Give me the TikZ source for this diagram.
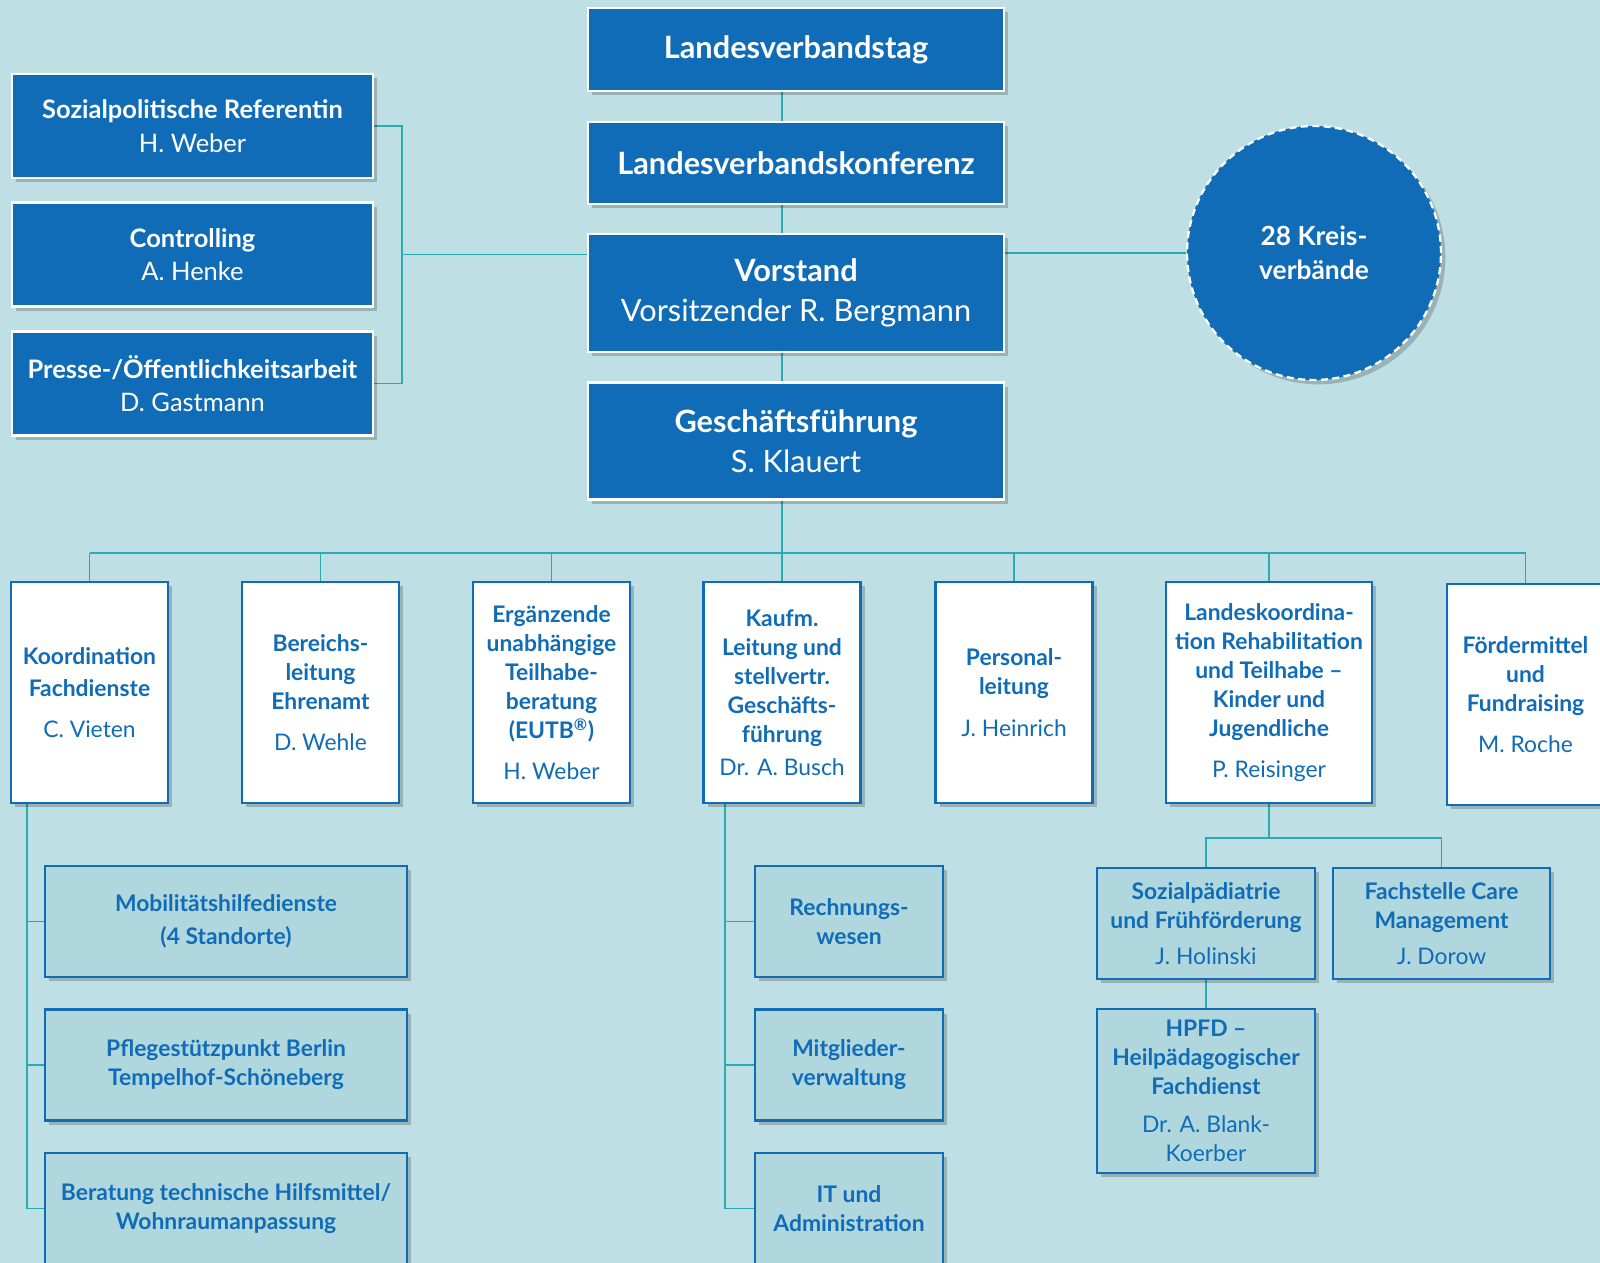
\documentclass[tikz,border=0pt]{standalone}
\usepackage{fontspec}
\setmainfont{Lato}
\usetikzlibrary{shadows,backgrounds}

\definecolor{bgblue}{RGB}{190,223,228}
\definecolor{orgblue}{RGB}{16,108,182}
\definecolor{linkteal}{RGB}{40,172,178}
\definecolor{subfill}{RGB}{176,215,222}

\newcommand\orgtop{\fontsize{17.5}{23}\selectfont}
\newcommand\orgside{\fontsize{14.5}{19}\selectfont}
\newcommand\orglow{\fontsize{13}{16.5}\selectfont}

\tikzset{
  boxshadow/.style={drop shadow={shadow xshift=2.5pt,shadow yshift=-2.5pt,opacity=.2,fill=black}},
  board/.style={boxshadow,fill=orgblue,draw=white,line width=1.6pt,text=white,align=center,
    inner sep=2pt,minimum width=8.32cm,font=\orgtop\bfseries},
  staff/.style={boxshadow,fill=orgblue,draw=white,line width=1.6pt,text=white,align=center,
    inner sep=2pt,minimum width=7.22cm,minimum height=2.08cm,font=\orgside\bfseries},
  unit/.style={boxshadow,fill=white,draw=orgblue,line width=1.6pt,text=orgblue,align=center,
    inner sep=2pt,minimum width=3.14cm,minimum height=4.42cm,font=\orglow\bfseries},
  subunit/.style={boxshadow,fill=subfill,draw=orgblue,line width=1.4pt,text=orgblue,align=center,
    inner sep=2pt,minimum height=2.22cm,font=\orglow\bfseries},
  link/.style={draw=linkteal,line width=1.1pt},
}

\begin{document}
\begin{tikzpicture}[x=0.02cm,y=-0.02cm]
\useasboundingbox (0,0) rectangle (1600,1263);

% Verbandsorgane
\node[board,minimum height=1.66cm] (lvtag) at (796,49.5) {Landesverbandstag};
\node[board,minimum height=1.64cm] (lvk) at (796,163) {Landesverbandskonferenz};
\node[board,minimum height=2.36cm] (vorstand) at (796,293) {Vorstand\\\mdseries Vorsitzender R. Bergmann};
\node[board,minimum height=2.34cm] (gf) at (796,441) {Geschäftsführung\\\mdseries S. Klauert};

% Stabsstellen
\node[staff] (sozref) at (192.5,126) {Sozialpolitische Referentin\\\mdseries H. Weber};
\node[staff] (controlling) at (192.5,254.5) {Controlling\\\mdseries A. Henke};
\node[staff] (presse) at (192.5,383.5) {Presse-/Öffentlichkeitsarbeit\\\mdseries D. Gastmann};

\node[boxshadow,circle,fill=orgblue,draw=white,dashed,line width=1.3pt,dash pattern=on 4pt off 2.5pt,
  minimum size=5.08cm,inner sep=0pt,text=white,align=center,font=\fontsize{15}{19.7}\selectfont\bfseries]
  (kreis) at (1314,253) {28 Kreis-\\verbände};

% Bereiche
\node[unit] (kf) at (89.5,692.5) {Koordination\\[1.5pt]Fachdienste\\[7pt]\mdseries C. Vieten};
\node[unit] (bl) at (320.5,692.5) {Bereichs-\\leitung\\Ehrenamt\\[7pt]\mdseries D. Wehle};
\node[unit] (eutb) at (551.5,692.5) {Ergänzende\\unabhängige\\Teilhabe-\\beratung\\(EUTB\textsuperscript{®})\\[7pt]\mdseries H. Weber};
\node[unit] (kaufm) at (782,692.5) {Kaufm.\\Leitung und\\stellvertr.\\Geschäfts-\\führung\\[2pt]\mdseries Dr. A. Busch};
\node[unit] (pl) at (1014,692.5) {Personal-\\leitung\\[7pt]\mdseries J. Heinrich};
\node[unit,minimum width=4.12cm] (lk) at (1269,692.5) {Landeskoordina-\\tion Rehabilitation\\und Teilhabe –\\Kinder und\\Jugendliche\\[7pt]\mdseries P. Reisinger};
\node[unit] (fm) at (1525.5,694.5) {Fördermittel\\und\\Fundraising\\[7pt]\mdseries M. Roche};

% Fachdienste
\node[subunit,minimum width=7.24cm] (mob) at (226,921.5) {Mobilitätshilfedienste\\[2pt](4 Standorte)};
\node[subunit,minimum width=7.24cm] (pflege) at (226,1065) {Pflegestützpunkt Berlin\\Tempelhof-Schöneberg};
\node[subunit,minimum width=7.24cm] (hilfsm) at (226,1208.5) {Beratung technische Hilfsmittel/\\Wohnraumanpassung};

\node[subunit,minimum width=3.76cm] (rw) at (849,921.5) {Rechnungs-\\wesen};
\node[subunit,minimum width=3.76cm] (mv) at (849,1065) {Mitglieder-\\verwaltung};
\node[subunit,minimum width=3.76cm] (it) at (849,1208.5) {IT und\\Administration};

\node[subunit,minimum width=4.36cm] (soz) at (1206,923.5) {Sozialpädiatrie\\und Frühförderung\\[4pt]\mdseries J. Holinski};
\node[subunit,minimum width=4.34cm] (fach) at (1441.5,923.5) {Fachstelle Care\\Management\\[4pt]\mdseries J. Dorow};
\node[subunit,minimum width=4.36cm,minimum height=3.28cm] (hpfd) at (1206,1091) {HPFD –\\Heilpädagogischer\\Fachdienst\\[5pt]\mdseries Dr. A. Blank-\\\mdseries Koerber};

\coordinate (spine) at (782,0);
\coordinate (brk) at (402,0);
\coordinate (bus) at (0,553);
\coordinate (lcol) at (27,0);
\coordinate (mcol) at (725,0);
\coordinate (rbus) at (0,838);

\begin{scope}[on background layer]
\fill[bgblue] (0,0) rectangle (1600,1263);
\draw[link] (lvtag.south -| spine) -- (lvk.north -| spine);
\draw[link] (lvk.south -| spine) -- (vorstand.north -| spine);
\draw[link] (vorstand.south -| spine) -- (gf.north -| spine);
\draw[link] (gf.south -| spine) -- (kaufm.north);
\draw[link] (sozref.east) -- (sozref.east -| brk) -- (presse.east -| brk) -- (presse.east);
\draw[link] (controlling.east -| brk) -- (vorstand.west |- controlling.east);
\draw[link] (vorstand.east |- kreis) -- (kreis.west);
\draw[link] (kf.north |- bus) -- (fm.north |- bus);
\foreach \n in {kf,bl,eutb,pl,lk,fm}
  \draw[link] (\n.north) -- (\n.north |- bus);
\draw[link] (kf.south -| lcol) -- (hilfsm.west -| lcol);
\foreach \n in {mob,pflege,hilfsm}
  \draw[link] (\n.west -| lcol) -- (\n.west);
\draw[link] (kaufm.south -| mcol) -- (it.west -| mcol);
\foreach \n in {rw,mv,it}
  \draw[link] (\n.west -| mcol) -- (\n.west);
\draw[link] (lk.south) -- (lk.south |- rbus);
\draw[link] (soz.north) -- (soz.north |- rbus) -| (fach.north);
\draw[link] (soz.south) -- (hpfd.north);
\end{scope}
\end{tikzpicture}
\end{document}
